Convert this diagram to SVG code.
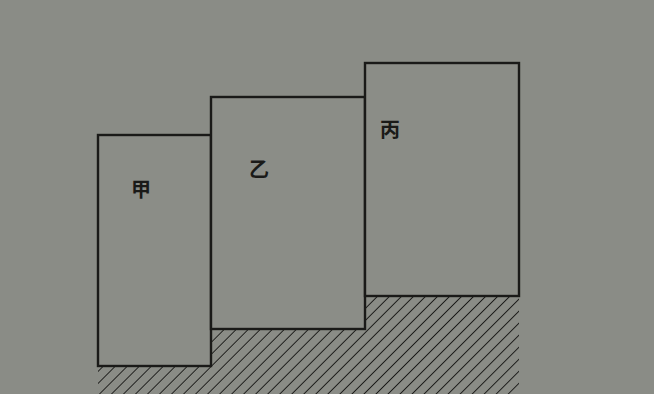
<svg xmlns="http://www.w3.org/2000/svg" width="654" height="394" viewBox="0 0 654 394">
<style>
.box{fill:#8b8d87;stroke:#1a1a18;stroke-width:2.4}
.lbl{font-family:"Noto Sans CJK SC","Noto Sans CJK JP",sans-serif;font-size:20px;fill:#1a1a18;text-anchor:middle;dominant-baseline:central;font-weight:bold}
</style>
<defs>
<pattern id="hatch" patternUnits="userSpaceOnUse" width="8.5" height="8.5" patternTransform="rotate(45)">
<line x1="0" y1="0" x2="0" y2="8.5" stroke="#1c1c1a" stroke-width="1.9"/>
</pattern>
</defs>
<rect width="654" height="394" fill="#8a8c86"/>
<g id="ground">
<polygon points="98,367 211,367 211,330 365,330 365,297 519,297 519,394 98,394" fill="url(#hatch)"/>
</g>
<g id="jia">
<rect class="box" x="98" y="135" width="113" height="231"/>
<text class="lbl" x="141" y="188">甲</text>
</g>
<g id="yi">
<rect class="box" x="211" y="97" width="154" height="232"/>
<text class="lbl" x="259" y="168">乙</text>
</g>
<g id="bing">
<rect class="box" x="365" y="63" width="154" height="233"/>
<text class="lbl" x="390" y="128">丙</text>
</g>
</svg>
